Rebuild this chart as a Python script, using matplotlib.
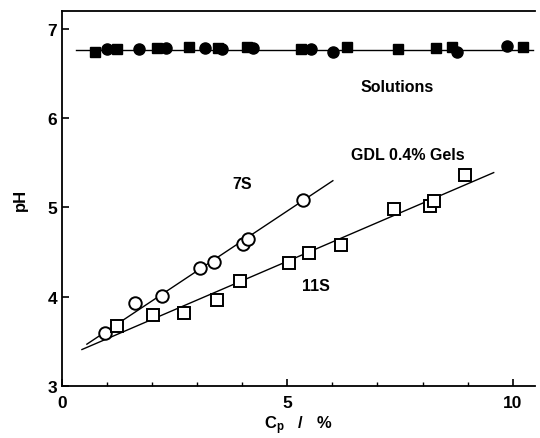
import matplotlib
matplotlib.use("Agg")
import matplotlib.pyplot as plt
import numpy as np
from matplotlib.ticker import MultipleLocator

plt.rcParams['font.family'] = ['Liberation Sans', 'DejaVu Sans']
plt.rcParams['font.weight'] = 'bold'
plt.rcParams['mathtext.fontset'] = 'custom'
plt.rcParams['mathtext.rm'] = 'Liberation Sans:bold'
plt.rcParams['mathtext.it'] = 'Liberation Sans:bold'
plt.rcParams['mathtext.bf'] = 'Liberation Sans:bold'

# Solutions (filled markers)
sol_circle_x = [1.00, 1.71, 2.30, 3.17, 3.55, 4.24, 5.52, 6.01, 8.76, 9.87]
sol_circle_y = [6.77, 6.77, 6.78, 6.78, 6.77, 6.78, 6.77, 6.74, 6.74, 6.81]
sol_square_x = [0.73, 1.22, 2.11, 2.82, 3.45, 4.10, 5.30, 6.32, 7.45, 8.31, 8.65, 10.22]
sol_square_y = [6.74, 6.77, 6.78, 6.79, 6.78, 6.79, 6.77, 6.79, 6.77, 6.78, 6.79, 6.80]
sol_line_x = [0.30, 10.45]
sol_level = 6.765

# 7S gels (open circles)
s7_x = [0.95, 1.62, 2.22, 3.06, 3.37, 4.01, 4.12, 5.34]
s7_y = [3.59, 3.93, 4.01, 4.32, 4.39, 4.59, 4.65, 5.08]
s7_fit = (0.335, 3.286)      # slope, intercept
s7_range = [0.55, 6.01]

# 11S gels (open squares)
s11_x = [1.22, 2.02, 2.71, 3.44, 3.95, 5.03, 5.48, 6.19, 7.36, 8.16, 8.25, 8.94]
s11_y = [3.67, 3.80, 3.82, 3.97, 4.18, 4.38, 4.49, 4.58, 4.98, 5.02, 5.07, 5.36]
s11_fit = (0.2166, 3.315)
s11_range = [0.44, 9.58]

fig = plt.figure(figsize=(5.40, 4.39), dpi=100)
ax = fig.add_axes([0.115, 0.118, 0.876, 0.855])

lw = 1.0
ax.plot(sol_line_x, [sol_level, sol_level], color='black', lw=lw, zorder=1)
for (m, b), rng in [(s7_fit, s7_range), (s11_fit, s11_range)]:
    xx = np.array(rng)
    ax.plot(xx, m * xx + b, color='black', lw=lw, zorder=1)

ax.plot(sol_square_x, sol_square_y, 's', color='black', ms=7.5, zorder=3)
ax.plot(sol_circle_x, sol_circle_y, 'o', color='black', ms=8, zorder=3)
ax.plot(s7_x, s7_y, 'o', mfc='white', mec='black', mew=1.4, ms=9, zorder=3)
ax.plot(s11_x, s11_y, 's', mfc='white', mec='black', mew=1.4, ms=8, zorder=3)

ax.set_xlim(0, 10.5)
ax.set_ylim(3, 7.2)
ax.xaxis.set_major_locator(MultipleLocator(5))
ax.xaxis.set_minor_locator(MultipleLocator(1))
ax.yaxis.set_major_locator(MultipleLocator(1))
ax.tick_params(axis='both', which='major', direction='in', length=5, width=1.2,
               labelsize=12.5, top=False, right=False)
ax.tick_params(axis='x', which='minor', direction='in', length=3, width=1, top=False)
ax.tick_params(axis='x', pad=6)
for lab in ax.get_xticklabels() + ax.get_yticklabels():
    lab.set_fontweight('bold')

ax.spines['right'].set_visible(False)
for s in ['left', 'bottom', 'top']:
    ax.spines[s].set_linewidth(1.3)

ax.set_ylabel('pH', fontsize=12, fontweight='bold', labelpad=14)
ax.set_xlabel(r'C$_\mathrm{p}$   /   %', fontsize=12, fontweight='bold', labelpad=3)

ax.text(7.43, 6.35, 'Solutions', fontsize=11.5, fontweight='bold', ha='center', va='center')
ax.text(7.67, 5.59, 'GDL 0.4% Gels', fontsize=11.5, fontweight='bold', ha='center', va='center')
ax.text(3.99, 5.27, '7S', fontsize=11.5, fontweight='bold', ha='center', va='center')
ax.text(5.63, 4.13, '11S', fontsize=11.5, fontweight='bold', ha='center', va='center')

fig.savefig('out.png', dpi=100)
